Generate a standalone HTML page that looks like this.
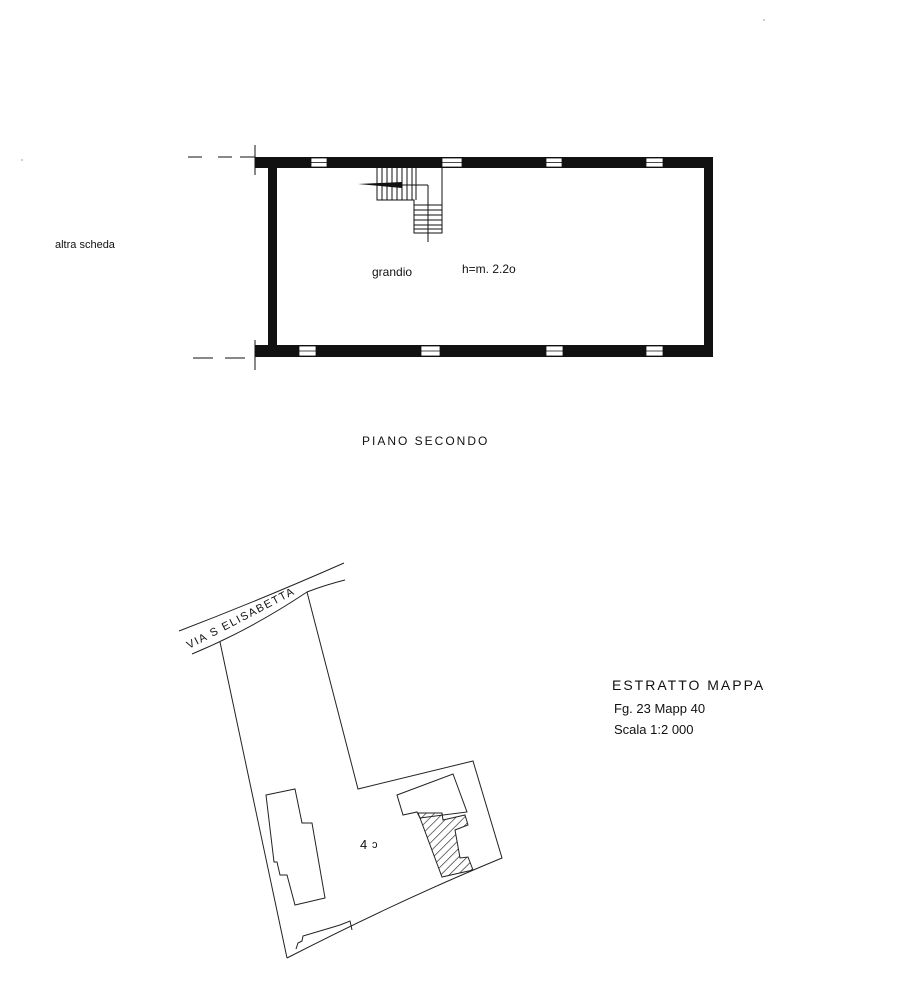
<!DOCTYPE html>
<html><head><meta charset="utf-8"><style>
html,body{margin:0;padding:0;background:#fff;}
svg{display:block}
text{font-family:"Liberation Sans",sans-serif;fill:#111}
</style></head><body>
<svg width="908" height="1000" viewBox="0 0 908 1000" xmlns="http://www.w3.org/2000/svg">
<defs>
<pattern id="h" width="6" height="6" patternUnits="userSpaceOnUse" patternTransform="rotate(45)">
<line x1="0" y1="0" x2="0" y2="6" stroke="#222" stroke-width="1.3"/>
</pattern>
</defs>
<g fill="#111">
<rect x="255" y="157" width="458" height="11"/>
<rect x="255" y="345" width="458" height="12"/>
<rect x="268" y="157" width="9" height="200"/>
<rect x="704" y="157" width="9" height="200"/>
</g>
<g fill="#fff" stroke="#111" stroke-width="0.8">
<rect x="311" y="158" width="16" height="9"/>
<rect x="442" y="158" width="20" height="9"/>
<rect x="546" y="158" width="16" height="9"/>
<rect x="646" y="158" width="17" height="9"/>
<rect x="299" y="346" width="17" height="10"/>
<rect x="421" y="346" width="19" height="10"/>
<rect x="546" y="346" width="17" height="10"/>
<rect x="646" y="346" width="17" height="10"/>
</g>
<g stroke="#111" stroke-width="0.8">
<line x1="311" y1="162.5" x2="327" y2="162.5"/><line x1="442" y1="162.5" x2="462" y2="162.5"/>
<line x1="546" y1="162.5" x2="562" y2="162.5"/><line x1="646" y1="162.5" x2="663" y2="162.5"/>
<line x1="299" y1="351" x2="316" y2="351"/><line x1="421" y1="351" x2="440" y2="351"/>
<line x1="546" y1="351" x2="563" y2="351"/><line x1="646" y1="351" x2="663" y2="351"/>
</g>
<g stroke="#111" stroke-width="1">
<line x1="188" y1="157" x2="202" y2="157"/><line x1="218" y1="157" x2="232" y2="157"/><line x1="240" y1="157" x2="255" y2="157"/>
<line x1="193" y1="358" x2="213" y2="358"/><line x1="225" y1="358" x2="245" y2="358"/>
<line x1="255" y1="145" x2="255" y2="175"/>
<line x1="255" y1="340" x2="255" y2="370"/>
</g>
<g stroke="#111" stroke-width="1" fill="none">
<path d="M377 168 V200 H414 V233 H442 V168"/>
<line x1="414" y1="185" x2="428" y2="185"/>
<line x1="428" y1="185" x2="428" y2="242"/>
<line x1="377" y1="185" x2="414" y2="185"/>
<path d="M382 168V200M387 168V200M392 168V200M397 168V200M402 168V200M407 168V200M412 168V200M416 168V200"/>
<path d="M414 205H442M414 210H442M414 215H442M414 220H442M414 225H442M414 229H442"/>
</g>
<path d="M358 184 L402 182 L402 188 Z" fill="#111"/>
<text x="55" y="248" font-size="11">altra scheda</text>
<text x="372" y="276" font-size="12">grandio</text>
<text x="462" y="273" font-size="12">h=m. 2.2o</text>
<text x="362" y="445" font-size="12" letter-spacing="2">PIANO  SECONDO</text>
<g stroke="#222" stroke-width="1" fill="none">
<path d="M179 631 Q260 600 344 563"/>
<path d="M192 654 Q250 630 307 592 Q325 585 345 580"/>
<path d="M220 642 L287 958"/>
<path d="M307 592 L358 789 L473 761 L502 858 Q400 900 287 958"/>
<path d="M266 795 L295 789 L302 823 L312 823 L325 898 L295 905 L287 875 L280 875 L277 862 L274 862 Z"/>
<path d="M397 795 L453 774 L467 812 L420 818 L417 812 L403 815 Z"/>
<path d="M296 949 L298 943 L302 941 L303 936 L330 928 L340 925 L350 921 L352 930"/>
</g>
<path d="M418 813 L442 813 L443 820 L465 815 L468 825 L455 830 L460 858 L468 857 L473 870 L442 877 L420 818 Z" fill="url(#h)" stroke="#222" stroke-width="1"/>
<text x="0" y="0" font-size="11" letter-spacing="1.5" transform="translate(189,649) rotate(-27.5)">VIA S ELISABETTA</text>
<text x="360" y="849" font-size="13">4</text><text x="372" y="848" font-size="11">ɔ</text>
<text x="612" y="690" font-size="14" letter-spacing="2">ESTRATTO  MAPPA</text>
<text x="614" y="713" font-size="13">Fg. 23   Mapp 40</text>
<text x="614" y="734" font-size="13">Scala   1:2 000</text>
<circle cx="764" cy="20" r="0.6" fill="#555"/>
<circle cx="22" cy="160" r="0.6" fill="#555"/>
</svg>
</body></html>
